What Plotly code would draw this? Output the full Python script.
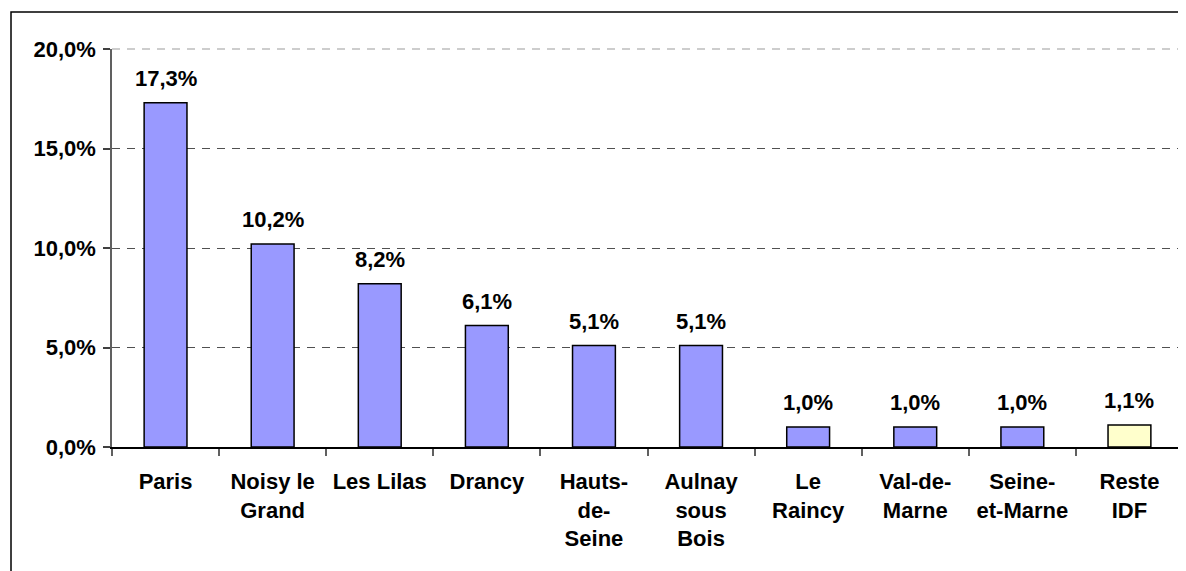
import plotly.graph_objects as go

categories = ["Paris", "Noisy le Grand", "Les Lilas", "Drancy", "Hauts-de-Seine",
              "Aulnay sous Bois", "Le Raincy", "Val-de-Marne", "Seine-et-Marne", "Reste IDF"]
tick_labels = ["Paris", "Noisy le<br>Grand", "Les Lilas", "Drancy", "Hauts-<br>de-<br>Seine",
               "Aulnay<br>sous<br>Bois", "Le<br>Raincy", "Val-de-<br>Marne", "Seine-<br>et-Marne", "Reste<br>IDF"]
values = [0.173, 0.102, 0.082, 0.061, 0.051, 0.051, 0.010, 0.010, 0.010, 0.011]
value_labels = ["17,3%", "10,2%", "8,2%", "6,1%", "5,1%", "5,1%", "1,0%", "1,0%", "1,0%", "1,1%"]
y_ticks = [0, 0.05, 0.10, 0.15, 0.20]
y_tick_labels = ["0,0%", "5,0%", "10,0%", "15,0%", "20,0%"]
bar_colors = ["#9999ff"] * 9 + ["#ffffcc"]

FONT = "Liberation Sans, Arial, sans-serif"
FS = 22

fig = go.Figure()
fig.add_trace(go.Bar(
    x=categories, y=values,
    marker=dict(color=bar_colors, line=dict(color="#000000", width=1.5)),
    hoverinfo="skip",
))

for c, v, t in zip(categories, values, value_labels):
    fig.add_annotation(x=c, y=v, text="<b>%s</b>" % t, showarrow=False,
                       yanchor="bottom", yshift=10,
                       font=dict(family=FONT, size=FS, color="#000000"))

# page body has an 8px margin: figure is 8px smaller and margins shifted accordingly
fig.update_layout(
    width=1178, height=563,
    margin=dict(l=104, r=3, t=41, b=124),
    paper_bgcolor="white", plot_bgcolor="white",
    showlegend=False,
    bargap=0.6,
    font=dict(family=FONT, size=FS, color="#000000", weight="bold"),
    xaxis=dict(
        tickmode="array", tickvals=categories, ticktext=tick_labels,
        tickson="boundaries", ticks="outside", ticklen=7, tickcolor="#606060", tickwidth=1.5,
        showline=True, linecolor="#000000", linewidth=1.5,
        showgrid=False, tickangle=0, fixedrange=True,
        tickfont=dict(family=FONT, size=FS, color="#000000", weight="bold"),
        ticklabelstandoff=14,
    ),
    yaxis=dict(
        range=[0, 0.20], tickmode="array", tickvals=y_ticks, ticktext=y_tick_labels,
        ticks="outside", ticklen=7, tickcolor="#404040", tickwidth=1.5,
        showline=True, linecolor="#606060", linewidth=1.5,
        showgrid=False, zeroline=False,
        minor=dict(tickvals=y_ticks[1:-1], showgrid=True, gridcolor="#505050",
                   griddash="8px,7px", gridwidth=1.3, ticks=""),
        tickfont=dict(family=FONT, size=FS, color="#000000", weight="bold"),
        ticklabelstandoff=3,
    ),
)

# top gridline (light grey dashed) along the top of the value axis
fig.add_shape(type="line", xref="paper", yref="paper", x0=0, x1=1, y0=1, y1=1,
              line=dict(color="#bdbdbd", width=1.5, dash="8px,7px"), layer="below")

# outer chart frame
fig.add_shape(type="rect", xref="paper", yref="paper",
              x0=-0.0943, x1=1.05, y0=-0.5, y1=1.093,
              line=dict(color="#000000", width=1.5), fillcolor="rgba(0,0,0,0)", layer="above")

fig.write_html("out.html")
